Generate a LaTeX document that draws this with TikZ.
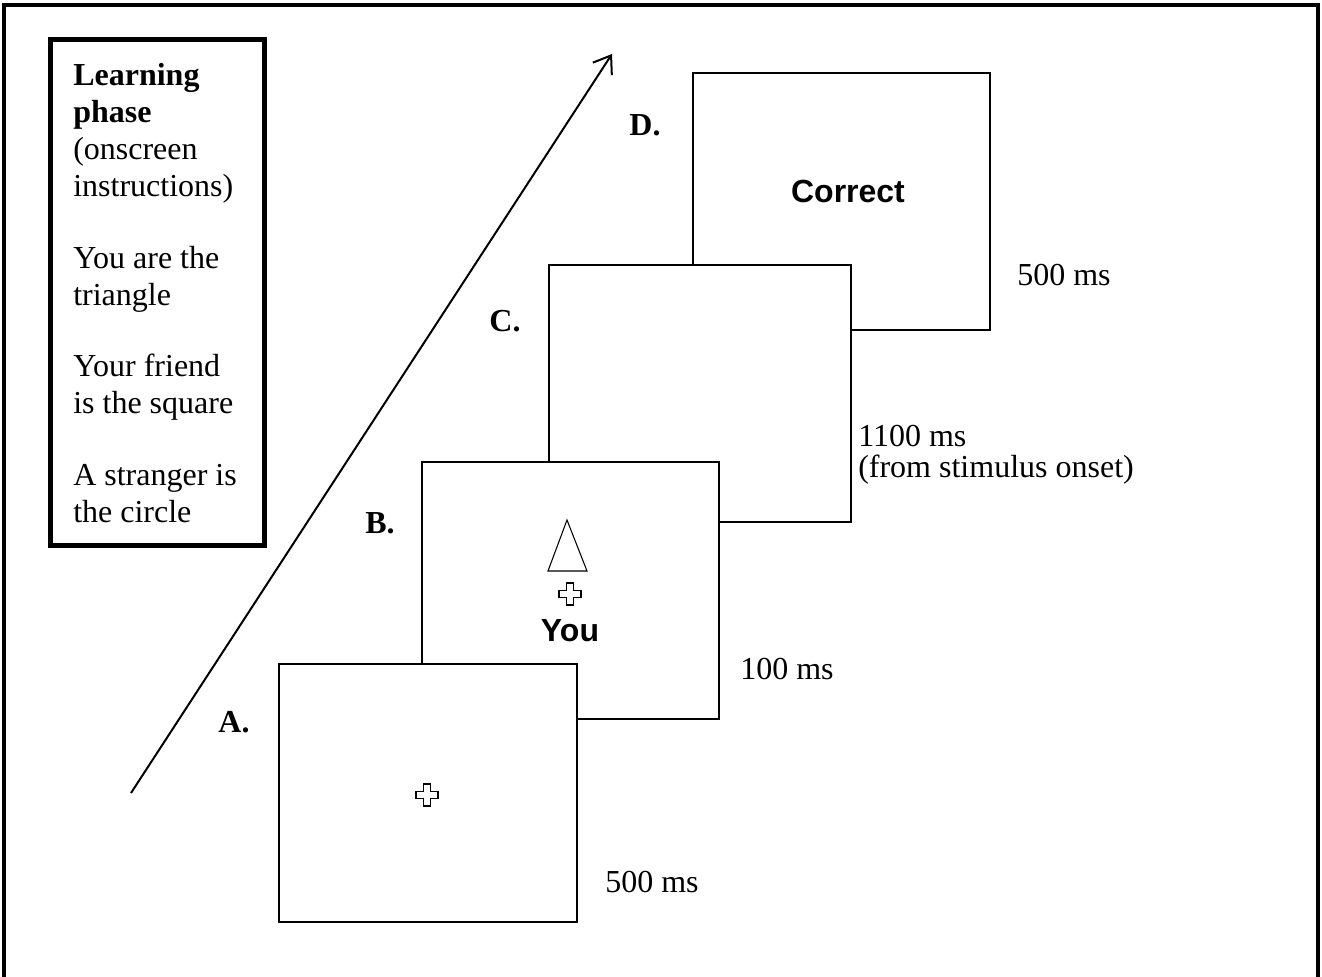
\documentclass[tikz,border=0pt]{standalone}
\usepackage{fontspec}
\setmainfont{Liberation Serif}
\setsansfont{Liberation Sans}
\usetikzlibrary{arrows.meta,calc}
\newcommand{\fixcross}[2]{%
  \draw[cross] ($(#1,#2)+(-3.8,-11)$) -- ++(7.6,0) -- ++(0,7.2) -- ++(7.2,0) -- ++(0,7.6)
   -- ++(-7.2,0) -- ++(0,7.2) -- ++(-7.6,0) -- ++(0,-7.2) -- ++(-7.2,0) -- ++(0,-7.6) -- ++(7.2,0) -- cycle;}
\begin{document}
\begin{tikzpicture}[x=0.75pt,y=-0.75pt,
  screen/.style={draw=black,line width=0.8pt,fill=white,inner sep=0pt},
  durtxt/.style={anchor=west,inner sep=0pt,font=\fontsize{24}{27.75}\selectfont},
  lettxt/.style={anchor=center,inner sep=0pt,font=\fontsize{24}{27.75}\selectfont\bfseries},
  cross/.style={draw=black,line width=0.9pt,fill=white},
  bigsans/.style={inner sep=0pt,font=\fontsize{24}{28}\selectfont\sffamily\bfseries}]
\useasboundingbox (0,0) rectangle (1322,977);
% outer frame (bottom edge not visible)
\draw[line width=3pt] (4,980) -- (4,5) -- (1318,5) -- (1318,980);
% instruction box
\node[draw=black,line width=3.75pt,inner sep=0pt,minimum width=160.5pt,minimum height=378.75pt] (instr) at (157,292.5) {};
\node[anchor=north west,inner sep=0pt,text width=180pt,align=flush left,
      font=\fontsize{24}{27.75}\selectfont] (itext) at (73,63)
 {\textbf{Learning}\\ \textbf{phase}\\ (onscreen\\ instructions)\\[26pt]
  You are the\\ triangle\\[26pt]
  Your friend\\ is the square\\[26pt]
  A stranger is\\ the circle};
% time arrow
\coordinate (tstart) at (131,793);
\coordinate (tend) at (612,54);
\draw[line width=1.5pt,-{Straight Barb[length=12pt,width=17pt,line width=1.5pt]}] (tstart) -- (tend);
% screens, back to front
\node[screen,minimum width=222.75pt,minimum height=192.75pt] (D) at (841.5,201.5) {};
\node[screen,minimum width=226.5pt,minimum height=192.75pt] (C) at (700,393.5) {};
\node[screen,minimum width=222.75pt,minimum height=192.75pt] (B) at (570.5,590.5) {};
\node[screen,minimum width=223.5pt,minimum height=193.5pt] (A) at (428,793) {};
% screen contents
\node[bigsans] (correct) at (848,191) {Correct};
\draw[line width=0.8pt,fill=white] (567,520) -- (587,571) -- (548,571) -- cycle;
\fixcross{570}{594}
\node[bigsans] (you) at (570,631) {You};
\fixcross{427}{795}
% labels
\node[lettxt] (la) at (234,722) {A.};
\node[lettxt] (lb) at (380,523) {B.};
\node[lettxt] (lc) at (505,321) {C.};
\node[lettxt] (ld) at (645,125) {D.};
% durations
\node[durtxt] (ta) at (605,882) {500 ms};
\node[durtxt] (tb) at (740,669) {100 ms};
\node[durtxt] (tc) at (858,436) {1100 ms};
\node[durtxt] (tc2) at (858,470) {(from stimulus onset)};
\node[durtxt] (td) at (1017,275) {500 ms};
\end{tikzpicture}
\end{document}
